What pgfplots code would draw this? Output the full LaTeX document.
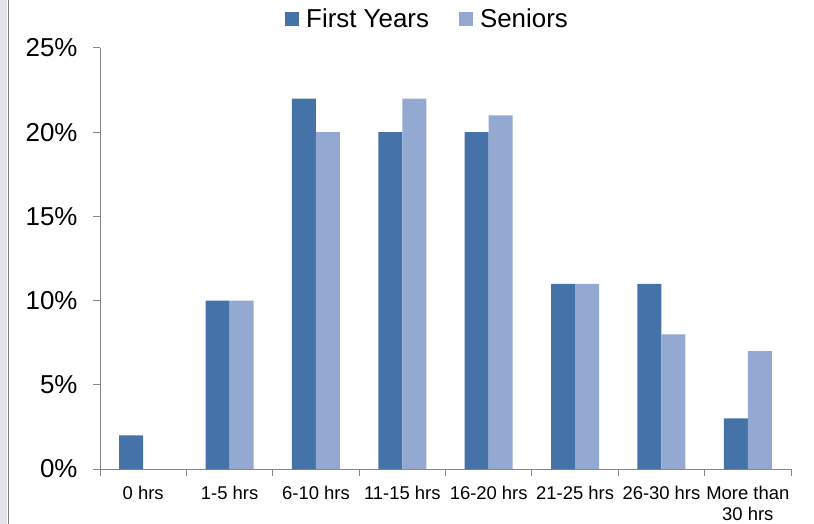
\documentclass[border=0pt]{standalone}
\usepackage{pgfplots}
\pgfplotsset{compat=1.18}
\usepackage{fontspec}
\setmainfont{Liberation Sans}
\definecolor{firstyr}{RGB}{70,115,167}
\definecolor{senior}{RGB}{148,169,209}
\definecolor{axisgrey}{RGB}{134,134,134}
\begin{document}
\begin{tikzpicture}
  \begin{axis}[name=ax,
        ybar=0pt,
        bar width=24bp,
        scale only axis,
        width=691bp,
        height=421bp,
        xmin=-0.5, xmax=7.5,
        ymin=0, ymax=25,
        axis x line*=bottom,
        axis y line*=left,
        axis line style={axisgrey, line width=1pt},
        tick style={axisgrey, line width=1pt},
        tick align=outside,
        xtick={0,...,7},
        major x tick style={draw=none},
        minor xtick={-0.5,0.5,...,7.5},
        minor tick length=7bp,
        major tick length=7bp,
        xticklabels={0 hrs,1-5 hrs,6-10 hrs,11-15 hrs,16-20 hrs,21-25 hrs,26-30 hrs,{More than\\30 hrs}},
        xticklabel style={font=\fontsize{18.5}{21}\selectfont, align=center, yshift=-7bp},
        ytick={0,5,...,25},
        yticklabel={\pgfmathprintnumber{\tick}\%},
        yticklabel style={font=\fontsize{26}{30}\selectfont, xshift=-12bp},
        /pgf/number format/assume math mode=true,
        legend columns=2,
        legend style={at={(0.474,1.069)}, anchor=center, draw=none, fill=none,
                      font=\fontsize{26}{30}\selectfont,
                      /tikz/every even column/.append style={column sep=28bp}},
        legend image code/.code={\fill[#1,draw=none] (0bp,-7bp) rectangle (14bp,7bp);
                                 \path (0bp,0bp) -- (19bp,0bp);},
        ]
        \addplot [draw=none, fill=firstyr] coordinates {(0,2) (1,10) (2,22) (3,20) (4,20) (5,11) (6,11) (7,3)};
        \addlegendentry{First Years}
        \addplot [draw=none, fill=senior] coordinates {(1,10) (2,20) (3,22) (4,21) (5,11) (6,8) (7,7)};
        \addlegendentry{Seniors}
  \end{axis}
  \pgfresetboundingbox
  \useasboundingbox (ax.south west) ++(-100bp,-55bp) rectangle ++(814bp,524bp);
  \fill[blue!10!gray!20] (ax.south west) ++(-100bp,-55bp) rectangle ++(7bp,524bp);
  \draw[gray, line width=1pt] (ax.south west) ++(-92bp,-55bp) -- ++(0,524bp);
\end{tikzpicture}
\end{document}
